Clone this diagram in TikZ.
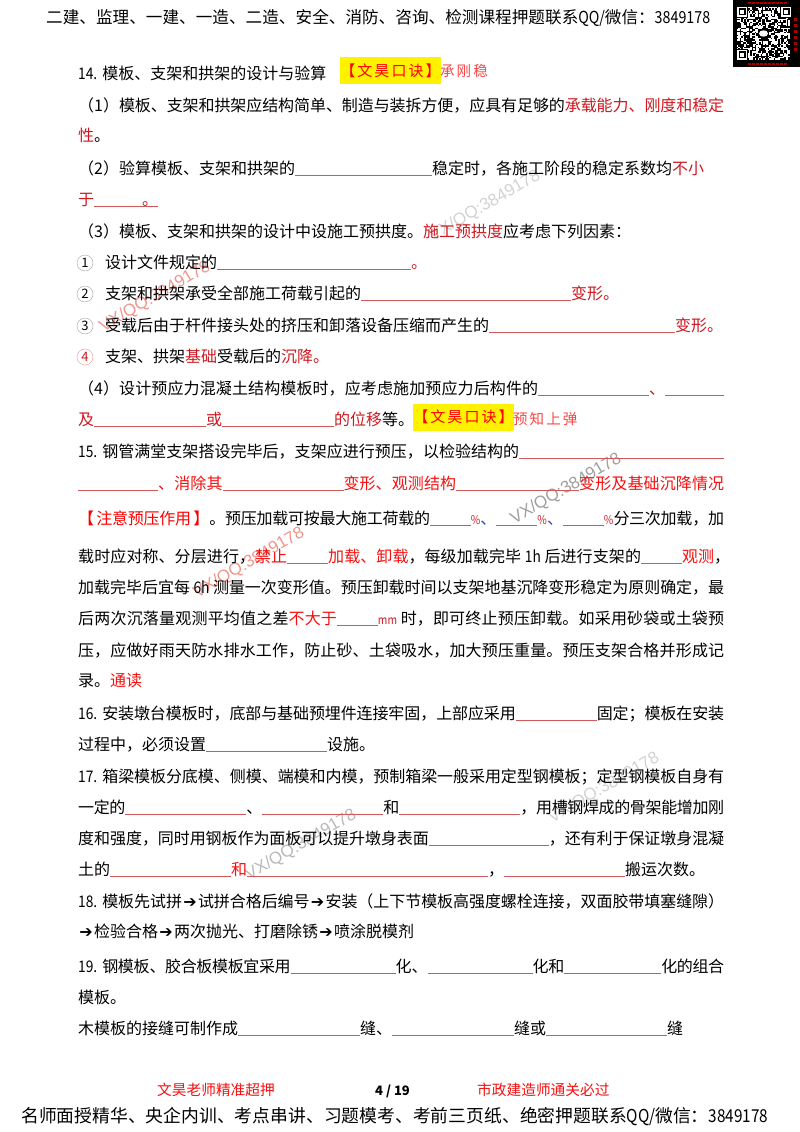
\documentclass[tikz,border=0pt]{standalone}
\usepackage{fontspec}
\setmainfont{Noto Sans CJK SC}
\newfontfamily\koufont[LetterSpace=14]{Noto Sans CJK SC}
\newfontfamily\narfont[FakeStretch=0.86]{Noto Sans CJK SC}
\newfontfamily\markfont{Liberation Sans}
\newfontfamily\arrowfont{DejaVu Sans}

\XeTeXlinebreaklocale "zh"
\XeTeXlinebreakskip = 0pt plus 2pt minus 0.4pt

\definecolor{keyred}{RGB}{204, 24, 30}
\definecolor{purered}{RGB}{245, 15, 15}
\definecolor{lightred}{RGB}{250, 70, 70}
\definecolor{blankred}{RGB}{208, 88, 88}
\definecolor{markred}{RGB}{240, 150, 140}
\definecolor{commablue}{RGB}{40, 70, 200}

\newcommand{\bodysize}{\fontsize{16}{20}\selectfont}
\newcommand{\hot}[1]{\textcolor{keyred}{#1}}
\newcommand{\nar}[1]{{\narfont #1}}
\newcommand{\itemno}[1]{\nar{#1}\hspace{5pt}}
\newcommand{\fillin}[1]{{\color{blankred}\rule[-2pt]{#1pt}{1.5pt}}}
\newcommand{\jline}[1]{\parbox[b]{646pt}{\tolerance=9999 \hbadness=10000 \parfillskip=0pt \noindent #1}}
\newcommand{\smallpc}[1]{{\narfont\fontsize{12}{12}\selectfont\hot{#1}}}
\newcommand{\heavyarrow}{\makebox[16pt]{\arrowfont\bfseries\fontsize{16}{16}\selectfont ➔}}

\tikzset{
	txt/.style = {anchor = base west, inner sep = 0, font = \bodysize},
	numring/.style = {circle, draw = gray!70, inner sep = 0, minimum size = 16, font = \fontsize{13}{13}\selectfont},
	wmark/.style = {inner sep = 0, rotate = 30, font = \markfont\fontsize{17}{17}\selectfont},
	koujue/.style = {fill = yellow, inner sep = 0, minimum width = 97, minimum height = 27, text = red, font = \koufont\fontsize{15}{15}\selectfont},
	kouword/.style = {anchor = base west, inner sep = 0, text = lightred, font = \koufont\fontsize{14.5}{15}\selectfont}
}

\begin{document}
\begin{tikzpicture}[x = 1pt, y = -1pt]

	\useasboundingbox (0, 0) rectangle (800, 1132);

	% Watermarks

	\foreach \px/\py/\tone [count = \i] in {485/206/gray!35, 155/297/markred, 566/489/gray!75, 249/563/markred, 604/788/gray!35, 301/845/gray!55}
	{
		\node [wmark, text = \tone] (wm\i) at (\px, \py) {VX/QQ:3849178};
	}

	% QR code

	\fill [black] (733, 0) rectangle (800, 67);
	\pgfmathsetseed{3849}
	\foreach \i in {0, ..., 35}
	{
		\foreach \j in {0, ..., 35}
		{
			\pgfmathsetmacro{\pick}{rnd}
			\ifdim \pick pt < 0.46pt
				\fill [white] ({737 + 1.47 * \i}, {7 + 1.47 * \j}) rectangle ++ (1.47, 1.47);
			\fi
		}
	}

	\foreach \fx/\fy in {737/7, 781/7, 737/50}
	{
		\fill [black] ({\fx - 1}, {\fy - 1}) rectangle ++ (12, 12);
		\fill [white] (\fx, \fy) rectangle ++ (10, 10);
		\fill [black] ({\fx + 1.5}, {\fy + 1.5}) rectangle ++ (7, 7);
		\fill [white] ({\fx + 3}, {\fy + 3}) rectangle ++ (4, 4);
	}

	\fill [black] (758, 29) rectangle (769, 38);
	\fill [white] (763.5, 33.5) ellipse (4.5 and 3.2);

	\foreach \Q in {748, 752, ..., 784}
	{
		\fill [red!65!black] (\Q, 2.5) rectangle ++ (2.6, 1.6);
		\fill [red!65!black] (\Q, 63) rectangle ++ (2.6, 1.6);
	}
	\foreach \Q in {18, 24, ..., 48}
	{
		\fill [red!65!black] (794, \Q) rectangle ++ (2.5, 3);
	}

	% Header

	\node [txt] (head) at (46, 24) {\parbox[b]{664pt}{\parfillskip=0pt \noindent\fontsize{16.6}{20}\selectfont 二建、监理、一建、一造、二造、安全、消防、咨询、检测课程押题联系\nar{QQ/}微信：\nar{3849178}}};

	% Item 14

	\node [txt] (p14) at (78, 79) {\itemno{14.}模板、支架和拱架的设计与验算};
	\node [koujue] (kou14) at (390.5, 70.5) {【文昊口诀】};
	\node [kouword] (word14) at (440, 77) {承刚稳};

	\node [txt] (p14a) at (78, 111) {\jline{（1）模板、支架和拱架应结构简单、制造与装拆方便，应具有足够的\hot{承载能力、刚度和稳定}}};
	\node [txt] (p14b) at (78, 141) {\hot{性}。};
	\node [txt] (p14c) at (78, 174) {（2）验算模板、支架和拱架的\fillin{137}稳定时，各施工阶段的稳定系数均\hot{不小}};
	\node [txt] (p14d) at (78, 205) {\hot{于}\fillin{64}\llap{\hot{。}}};
	\node [txt] (p14e) at (78, 237) {（3）模板、支架和拱架的设计中设施工预拱度。\hot{施工预拱度}应考虑下列因素：};

	\node [numring] (n1) at (85, 263) {1};
	\node [numring] (n2) at (85, 294) {2};
	\node [numring] (n3) at (85, 326) {3};
	\node [numring, draw = markred, text = keyred] (n4) at (85, 357) {4};

	\node [txt] (f1) at (105, 268) {设计文件规定的\fillin{194}\hot{。}};
	\node [txt] (f2) at (105, 299) {支架和拱架承受全部施工荷载引起的\fillin{210}\hot{变形。}};
	\node [txt] (f3) at (105, 331) {受载后由于杆件接头处的挤压和卸落设备压缩而产生的\fillin{186}\hot{变形。}};
	\node [txt] (f4) at (105, 362) {支架、拱架\hot{基础}受载后的\hot{沉降。}};

	\node [txt] (p14f) at (78, 394) {\jline{（4）设计预应力混凝土结构模板时，应考虑施加预应力后构件的\fillin{111}\hot{、}\fillin{59}}};
	\node [txt] (p14g) at (78, 425) {\hot{及}\fillin{112}\hot{或}\fillin{112}\hot{的位移}等。};
	\node [koujue] (kou14g) at (463.5, 417) {【文昊口诀】};
	\node [kouword] (word14g) at (513, 424) {预知上弹};

	% Item 15

	\node [txt] (p15a) at (78, 457) {\jline{\itemno{15.}钢管满堂支架搭设完毕后，支架应进行预压，以检验结构的\fillin{205}}};
	\node [txt] (p15b) at (78, 489) {\jline{\fillin{80}\textcolor{purered}{、消除其}\fillin{121}\textcolor{purered}{变形、观测结构}\fillin{123}\textcolor{purered}{变形及基础沉降情况}}};
	\node [txt] (p15c) at (78, 524) {\jline{{\koufont\textcolor{red}{【注意预压作用】}}。预压加载可按最大施工荷载的\fillin{41}\smallpc{\%}\textcolor{commablue}{、}\fillin{41}\smallpc{\%}\textcolor{commablue}{、}\fillin{41}\smallpc{\%}分三次加载，加}};
	\node [txt] (p15d) at (78, 562) {\jline{载时应对称、分层进行，\textcolor{purered}{禁止}\fillin{41}\textcolor{purered}{加载、卸载}，每级加载完毕 \nar{1h} 后进行支架的\fillin{41}\textcolor{purered}{观测}\makebox[10pt][l]{，}}};
	\node [txt] (p15e) at (78, 593) {\jline{加载完毕后宜每 \nar{6h} 测量一次变形值。预压卸载时间以支架地基沉降变形稳定为原则确定，最}};
	\node [txt] (p15f) at (78, 624) {\jline{后两次沉落量观测平均值之差\textcolor{purered}{不大于}\fillin{41}\smallpc{mm} 时，即可终止预压卸载。如采用砂袋或土袋预}};
	\node [txt] (p15g) at (78, 656) {\jline{压，应做好雨天防水排水工作，防止砂、土袋吸水，加大预压重量。预压支架合格并形成记}};
	\node [txt] (p15h) at (78, 686) {录。\textcolor{purered}{通读}};

	% Item 16

	\node [txt] (p16a) at (78, 719) {\jline{\itemno{16.}安装墩台模板时，底部与基础预埋件连接牢固，上部应采用\fillin{81}固定；模板在安装}};
	\node [txt] (p16b) at (78, 750) {过程中，必须设置\fillin{121}设施。};

	% Item 17

	\node [txt] (p17a) at (78, 782) {\jline{\itemno{17.}箱梁模板分底模、侧模、端模和内模，预制箱梁一般采用定型钢模板；定型钢模板自身有}};
	\node [txt] (p17b) at (78, 813) {\jline{一定的\fillin{121}、\fillin{121}和\fillin{121}，用槽钢焊成的骨架能增加刚}};
	\node [txt] (p17c) at (78, 844) {\jline{度和强度，同时用钢板作为面板可以提升墩身表面\fillin{120}，还有利于保证墩身混凝}};
	\node [txt] (p17d) at (78, 875) {土的\fillin{121}\textcolor{purered}{和}\fillin{241}，\fillin{121}搬运次数。};

	% Item 18

	\node [txt] (p18a) at (78, 907) {\jline{\itemno{18.}模板先试拼\heavyarrow 试拼合格后编号\heavyarrow 安装（上下节模板高强度螺栓连接，双面胶带填塞缝隙）}};
	\node [txt] (p18b) at (78, 937) {\heavyarrow 检验合格\heavyarrow 两次抛光、打磨除锈\heavyarrow 喷涂脱模剂};

	% Item 19

	\node [txt] (p19a) at (78, 972) {\jline{\itemno{19.}钢模板、胶合板模板宜采用\fillin{105}化、\fillin{105}化和\fillin{97}化的组合}};
	\node [txt] (p19b) at (78, 1003) {模板。};
	\node [txt] (p19c) at (78, 1034) {木模板的接缝可制作成\fillin{122}缝、\fillin{122}缝或\fillin{121}缝};

	% Footer

	\node [txt, text = purered, font = \fontsize{14.7}{18}\selectfont] (foot1) at (157, 1095) {文昊老师精准超押};
	\node [txt, font = \bfseries\fontsize{13}{14}\selectfont] (page) at (375, 1095) {4 / 19};
	\node [txt, text = purered, font = \fontsize{14.7}{18}\selectfont] (foot2) at (477, 1095) {市政建造师通关必过};
	\node [txt] (tail) at (21, 1122) {\parbox[b]{747pt}{\parfillskip=0pt \noindent\fontsize{17.8}{20}\selectfont 名师面授精华、央企内训、考点串讲、习题模考、考前三页纸、绝密押题联系\nar{QQ/}微信：\nar{3849178}}};

\end{tikzpicture}
\end{document}
